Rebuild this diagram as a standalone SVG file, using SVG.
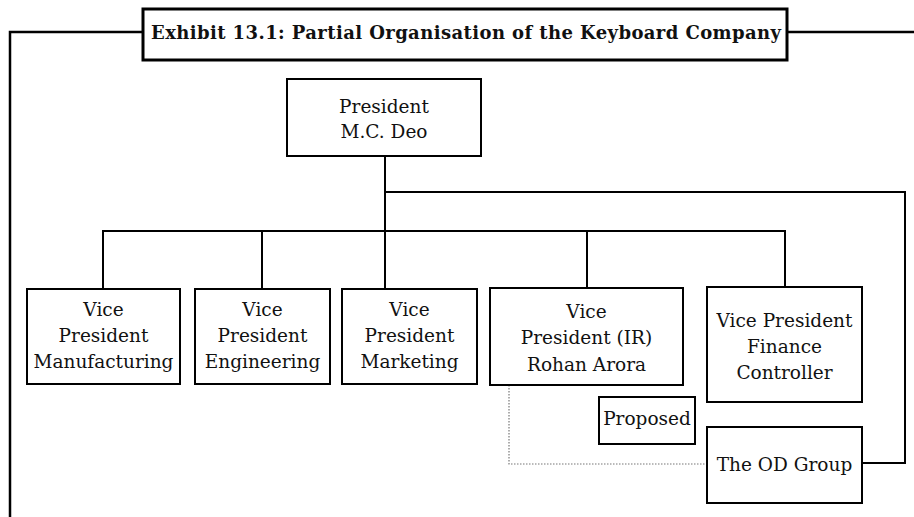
<svg xmlns="http://www.w3.org/2000/svg" width="914" height="517" viewBox="0 0 914 517">
<style>
.box{fill:#fff;stroke:#000;stroke-width:2}
.t{font-family:"DejaVu Serif","Liberation Serif",serif;font-size:18.5px;fill:#111;text-anchor:middle}
.title{font-family:"DejaVu Serif","Liberation Serif",serif;font-size:18px;font-weight:bold;fill:#111}
.ln{fill:none;stroke:#000;stroke-width:2}
.dot{fill:none;stroke:#777;stroke-width:1.2;stroke-dasharray:1.5 1.5}
</style>
<rect width="914" height="517" fill="#fff"/>
<g id="frame">
<path d="M10,517 V32 H143 M787,32 H914" fill="none" stroke="#000" stroke-width="2.5"/>
</g>
<g id="connectors">
<path class="ln" d="M385,156 V289"/>
<path class="ln" d="M103,289 V231 H785 V287"/>
<path class="ln" d="M262,231 V289"/>
<path class="ln" d="M587,231 V288"/>
<path class="ln" d="M385,192 H905 V463 H862"/>
<path class="dot" d="M509,385 V464 H707"/>
</g>
<g id="title">
<rect x="143" y="9" width="644" height="51" fill="#fff" stroke="#000" stroke-width="3"/>
<text class="title" x="151" y="39" textLength="630" lengthAdjust="spacing">Exhibit 13.1: Partial Organisation of the Keyboard Company</text>
</g>
<g id="president">
<rect class="box" x="287" y="79" width="194" height="77"/>
<text class="t" x="384" y="113">President</text>
<text class="t" x="384" y="138">M.C. Deo</text>
</g>
<g id="vp-manufacturing">
<rect class="box" x="27" y="289" width="153" height="95"/>
<text class="t" x="103.5" y="316">Vice</text>
<text class="t" x="103.5" y="342">President</text>
<text class="t" x="103.5" y="368">Manufacturing</text>
</g>
<g id="vp-engineering">
<rect class="box" x="195" y="289" width="135" height="95"/>
<text class="t" x="262.5" y="316">Vice</text>
<text class="t" x="262.5" y="342">President</text>
<text class="t" x="262.5" y="368">Engineering</text>
</g>
<g id="vp-marketing">
<rect class="box" x="342" y="289" width="135" height="95"/>
<text class="t" x="409.5" y="316">Vice</text>
<text class="t" x="409.5" y="342">President</text>
<text class="t" x="409.5" y="368">Marketing</text>
</g>
<g id="vp-ir">
<rect class="box" x="490" y="288" width="193" height="97"/>
<text class="t" x="586.5" y="318">Vice</text>
<text class="t" x="586.5" y="344">President (IR)</text>
<text class="t" x="586.5" y="371">Rohan Arora</text>
</g>
<g id="vp-finance">
<rect class="box" x="707" y="287" width="155" height="115"/>
<text class="t" x="784.5" y="327">Vice President</text>
<text class="t" x="784.5" y="353">Finance</text>
<text class="t" x="784.5" y="379">Controller</text>
</g>
<g id="proposed">
<rect class="box" x="599" y="397" width="96" height="47"/>
<text class="t" x="647" y="425">Proposed</text>
</g>
<g id="od-group">
<rect class="box" x="707" y="427" width="155" height="76"/>
<text class="t" x="784.5" y="471">The OD Group</text>
</g>
</svg>
